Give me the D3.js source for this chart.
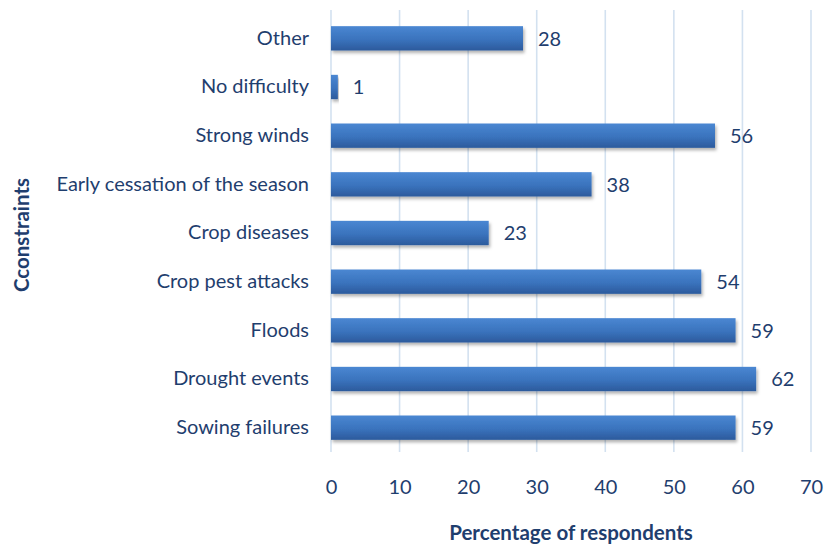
<!DOCTYPE html>
<html>
<head>
<meta charset="utf-8">
<script src="https://cdn.jsdelivr.net/npm/d3@7/dist/d3.min.js"></script>
<style>
  html, body { margin: 0; padding: 0; background: #fff; }
  svg { display: block; font-family: Lato, "Open Sans", sans-serif; }
</style>
</head>
<body>
<svg id="chart" width="832" height="546"></svg>
<script>
// Constraints reported by respondents (top to bottom as drawn)
const categories = [
  "Other",
  "No difficulty",
  "Strong winds",
  "Early cessation of the season",
  "Crop diseases",
  "Crop pest attacks",
  "Floods",
  "Drought events",
  "Sowing failures"
];
const values = [28, 1, 56, 38, 23, 54, 59, 62, 59];
const xTicks = [0, 10, 20, 30, 40, 50, 60, 70];
const xTitle = "Percentage of respondents";
const yTitle = "Cconstraints";

const svg = d3.select("#chart");
const textColor = "#1f3e6e";
const fontFamily = "Lato, 'Open Sans', sans-serif";
const labelSize = 20;
const margin = { left: 331, right: 21, top: 14, bottom: 94 };
const W = 832, H = 546;

const x = d3.scaleLinear().domain([0, 70]).range([margin.left, W - margin.right]);
const y = d3.scaleBand().domain(categories).range([margin.top, H - margin.bottom]).paddingInner(0.5).paddingOuter(0.25);

const defs = svg.append("defs");
const grad = defs.append("linearGradient").attr("id", "barGrad")
  .attr("x1", 0).attr("y1", 0).attr("x2", 0).attr("y2", 1);
grad.append("stop").attr("offset", "0%").attr("stop-color", "#4a87d2");
grad.append("stop").attr("offset", "55%").attr("stop-color", "#3a73bd");
grad.append("stop").attr("offset", "100%").attr("stop-color", "#2c5a9c");
const shadow = defs.append("filter").attr("id", "barShadow")
  .attr("x", "-5%").attr("y", "-30%").attr("width", "115%").attr("height", "180%");
shadow.append("feDropShadow").attr("dx", 1.5).attr("dy", 2.5).attr("stdDeviation", 1.6)
  .attr("flood-color", "#000").attr("flood-opacity", 0.3);

// Vertical gridlines
svg.append("g").selectAll("line").data(xTicks).join("line")
  .attr("x1", d => x(d)).attr("x2", d => x(d))
  .attr("y1", 10).attr("y2", 452)
  .attr("stroke", "#d3e1f0").attr("stroke-width", 1.6);

// Bars
svg.append("g").selectAll("rect").data(values).join("rect")
  .attr("x", x(0))
  .attr("y", (d, i) => y(categories[i]))
  .attr("width", d => x(d) - x(0))
  .attr("height", y.bandwidth())
  .attr("fill", "url(#barGrad)")
  .attr("filter", "url(#barShadow)");

// Value labels
svg.append("g").selectAll("text").data(values).join("text")
  .attr("x", d => x(d) + 15)
  .attr("y", (d, i) => y(categories[i]) + y.bandwidth() / 2)
  .attr("dy", "0.36em")
  .attr("fill", textColor)
  .attr("font-size", labelSize)
  .text(d => d);

// Category axis
const yAxis = svg.append("g").attr("transform", `translate(${x(0) - 22},0)`)
  .call(d3.axisLeft(y).tickSize(0).tickPadding(0));
yAxis.select(".domain").remove();
yAxis.selectAll("text").attr("fill", textColor).attr("font-size", labelSize)
  .attr("font-family", fontFamily);

// Value axis
const xAxis = svg.append("g").attr("transform", `translate(0,${480})`)
  .call(d3.axisBottom(x).tickValues(xTicks).tickSize(0).tickPadding(0));
xAxis.select(".domain").remove();
xAxis.selectAll("text").attr("fill", textColor).attr("font-size", labelSize)
  .attr("font-family", fontFamily);

// Axis titles
svg.append("text")
  .attr("x", 571).attr("y", 540)
  .attr("text-anchor", "middle")
  .attr("fill", textColor).attr("font-size", 20.5).attr("font-weight", "bold")
  .text(xTitle);
svg.append("text")
  .attr("transform", `translate(29,${235}) rotate(-90)`)
  .attr("text-anchor", "middle")
  .attr("fill", textColor).attr("font-size", 20.5).attr("font-weight", "bold")
  .text(yTitle);
</script>
</body>
</html>
